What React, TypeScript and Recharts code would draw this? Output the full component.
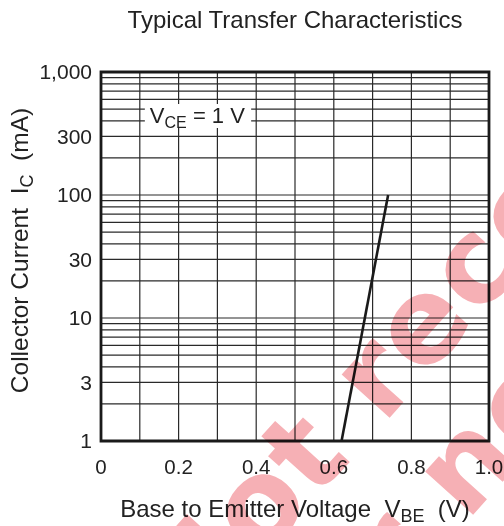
import React from "react";
import { LineChart, Line, XAxis, YAxis, CartesianGrid, ReferenceArea, Label } from "recharts";

const FONT = "'Liberation Sans', Arial, Helvetica, sans-serif";

// Curve: V_CE = 1 V
const vbeValues = [0.62, 0.68, 0.74];
const icValues = [1, 10, 100];

const xTicks = [0, 0.2, 0.4, 0.6, 0.8, 1.0];
const yTicks = [1, 3, 10, 30, 100, 300, 1000];

const xGridValues = [0, 0.1, 0.2, 0.3, 0.4, 0.5, 0.6, 0.7, 0.8, 0.9, 1.0];
const yGridValues = [
  1, 2, 3, 4, 5, 6, 7, 8, 9,
  10, 20, 30, 40, 50, 60, 70, 80, 90,
  100, 200, 300, 400, 500, 600, 700, 800, 900,
  1000,
];

const titleText = "Typical Transfer Characteristics";
const xLabelMain = "Base to Emitter Voltage  V";
const xLabelSub = "BE";
const xLabelUnit = "  (V)";
const yLabelMain = "Collector Current  I";
const yLabelSub = "C";
const yLabelUnit = "  (mA)";
const conditionMain = "V";
const conditionSub = "CE";
const conditionRest = " = 1 V";
const watermarkLine1 = "Not recommended";
const watermarkLine2 = "for new design";

const data = vbeValues.map((v, i) => ({ vbe: v, ic: icValues[i] }));

const fmtX = (v: number) => (v === 0 ? "0" : v.toFixed(1));
const fmtY = (v: number) => v.toLocaleString("en-US");

const XLabel = (props: any) => {
  const vb = props.viewBox || {};
  const cx = vb.x + vb.width / 2;
  return (
    <text x={cx} y={517} textAnchor="middle" fontFamily={FONT} fontSize={24} fill="#222" style={{ whiteSpace: "pre" }}>
      {xLabelMain}
      <tspan fontSize={18} dy={5}>{xLabelSub}</tspan>
      <tspan dy={-5}>{xLabelUnit}</tspan>
    </text>
  );
};

const YLabel = (props: any) => {
  const vb = props.viewBox || {};
  const cy = vb.y + vb.height / 2 - 6;
  return (
    <text
      x={28}
      y={cy}
      transform={`rotate(-90, 28, ${cy})`}
      textAnchor="middle"
      fontFamily={FONT}
      fontSize={24.5}
      fill="#222"
      style={{ whiteSpace: "pre" }}
    >
      {yLabelMain}
      <tspan fontSize={18} dy={5}>{yLabelSub}</tspan>
      <tspan dy={-5}>{yLabelUnit}</tspan>
    </text>
  );
};

const ConditionLabel = (props: any) => {
  const vb = props.viewBox || {};
  return (
    <text x={vb.x + 5} y={vb.y + 19} fontFamily={FONT} fontSize={22} fill="#222" style={{ whiteSpace: "pre" }}>
      {conditionMain}
      <tspan fontSize={16} dy={5}>{conditionSub}</tspan>
      <tspan dy={-5}>{conditionRest}</tspan>
    </text>
  );
};

export default function App() {
  return (
    <div style={{ position: "absolute", left: 0, top: 0, width: 504, height: 526, background: "#fff", overflow: "hidden" }}>
      <LineChart
        width={504}
        height={526}
        data={data}
        margin={{ top: 72, right: 15, bottom: 0, left: 0 }}
      >
        <CartesianGrid
          horizontalValues={yGridValues}
          verticalValues={xGridValues}
          stroke="#2a2a2a"
          strokeWidth={1.2}
          strokeDasharray=""
        />
        <XAxis
          type="number"
          dataKey="vbe"
          domain={[0, 1]}
          ticks={xTicks}
          tickFormatter={fmtX}
          allowDataOverflow
          height={85}
          axisLine={false}
          tickLine={false}
          tickSize={0}
          tickMargin={18}
          tick={{ fontFamily: FONT, fontSize: 20.5, fill: "#222" }}
          interval={0}
        >
          <Label content={<XLabel />} />
        </XAxis>
        <YAxis
          type="number"
          dataKey="ic"
          scale="log"
          domain={[1, 1000]}
          ticks={yTicks}
          tickFormatter={fmtY}
          allowDataOverflow
          width={101}
          axisLine={false}
          tickLine={false}
          tickSize={0}
          tickMargin={9}
          tick={{ fontFamily: FONT, fontSize: 21, fill: "#222" }}
          interval={0}
        >
          <Label content={<YLabel />} />
        </YAxis>
        <ReferenceArea
          x1={0.113}
          x2={0.387}
          y1={351}
          y2={550}
          fill="#ffffff"
          fillOpacity={1}
          stroke="none"
          ifOverflow="visible"
          label={<ConditionLabel />}
        />
        <ReferenceArea
          x1={0}
          x2={1}
          y1={1}
          y2={1000}
          fill="none"
          fillOpacity={0}
          stroke="#1a1a1a"
          strokeWidth={2.8}
          ifOverflow="visible"
        />
        <Line
          type="linear"
          dataKey="ic"
          stroke="#1a1a1a"
          strokeWidth={2.6}
          dot={false}
          activeDot={false}
          isAnimationActive={false}
        />
        <text x={295} y={28} textAnchor="middle" fontFamily={FONT} fontSize={24} fill="#222">
          {titleText}
        </text>
      </LineChart>
      <svg
        width={504}
        height={526}
        style={{ position: "absolute", left: 0, top: 0, pointerEvents: "none", mixBlendMode: "multiply" }}
      >
        <g fontFamily="'DejaVu Sans', sans-serif" fontWeight="bold" fontSize={118} fill="#f6b0b5" letterSpacing={2}>
          <text x={192} y={637} transform="rotate(-48, 192, 637)">{watermarkLine1}</text>
          <text x={306} y={700} transform="rotate(-48, 306, 700)">{watermarkLine2}</text>
        </g>
      </svg>
    </div>
  );
}
